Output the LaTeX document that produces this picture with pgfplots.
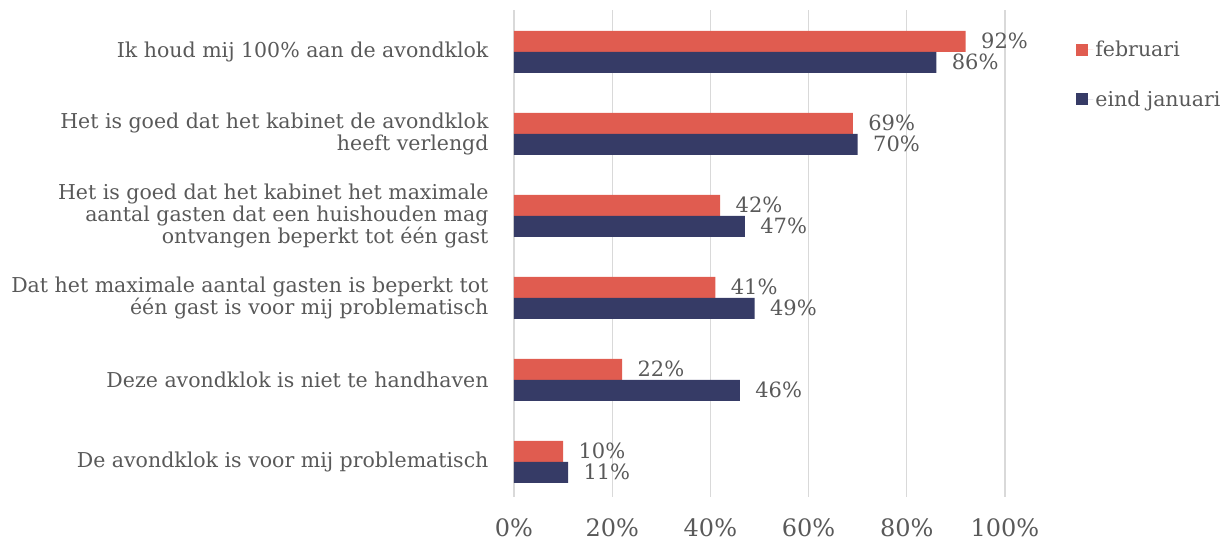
\documentclass[border=0pt]{standalone}
\usepackage{fontspec}
\setmainfont{DejaVu Serif}
\usepackage{pgfplots}
\pgfplotsset{compat=1.18}
\definecolor{feb}{HTML}{E05C50}
\definecolor{jan}{HTML}{363B66}
\definecolor{txt}{HTML}{595959}
\definecolor{grd}{HTML}{D9D9D9}

\begin{document}
\begin{tikzpicture}
\begin{axis}[
    width=491pt, height=487pt,
    scale only axis,
    clip=false,
    xmin=0, xmax=100,
    ymin=-0.51, ymax=5.43,
    y dir=reverse,
    xbar,
    bar width=21pt,
    xtick={0,20,40,60,80,100},
    xticklabel={\pgfmathprintnumber{\tick}\%},
    /pgf/number format/assume math mode=true,
    ytick={0,1,2,3,4,5},
    yticklabels={
        Ik houd mij 100\% aan de avondklok,
        Het is goed dat het kabinet de avondklok\\heeft verlengd,
        Het is goed dat het kabinet het maximale\\aantal gasten dat een huishouden mag\\ontvangen beperkt tot één gast,
        Dat het maximale aantal gasten is beperkt tot\\één gast is voor mij problematisch,
        Deze avondklok is niet te handhaven,
        De avondklok is voor mij problematisch},
    yticklabel style={align=right, font=\fontsize{20.5}{22}\selectfont, text=txt, xshift=-22pt},
    xticklabel style={font=\fontsize{24}{26}\selectfont, text=txt, yshift=-18pt},
    xmajorgrids,
    major grid style={grd, line width=1.2pt},
    axis line style={draw=none},
    major tick length=0pt,
    nodes near coords={\pgfmathprintnumber{\pgfplotspointmeta}\%},
    nodes near coords style={font=\fontsize{21}{23}\selectfont, text=txt, anchor=west, xshift=12pt},
    point meta=x,
    legend style={at={(1.145,0.94)}, anchor=north west, draw=none, fill=none,
        font=\fontsize{20.5}{22}\selectfont, text=txt, row sep=28pt,
        legend cell align=left, inner sep=0pt},
    legend image code/.code={\fill[#1] (0pt,-6pt) rectangle (12pt,6pt);
        \path (0pt,0pt) -- (17pt,0pt);},
]
\addplot[fill=feb, draw=none, bar shift=10.5pt] coordinates {
    (92,0) (69,1) (42,2) (41,3) (22,4) (10,5)
};
\addplot[fill=jan, draw=none, bar shift=-10.5pt] coordinates {
    (86,0) (70,1) (47,2) (49,3) (46,4) (11,5)
};
\legend{februari, eind januari}
\end{axis}
\path ([shift={(-514pt,10pt)}]current axis.north west)
      ([shift={(227pt,-48pt)}]current axis.south east);
\end{tikzpicture}
\end{document}
